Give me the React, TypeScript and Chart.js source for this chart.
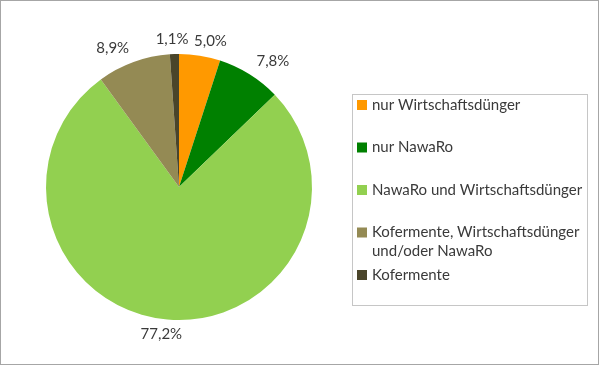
import React, { useEffect, useRef } from "react";
import { Chart, registerables } from "chart.js";

Chart.register(...registerables);

const categories: (string | string[])[] = [
  "nur Wirtschaftsdünger",
  "nur NawaRo",
  "NawaRo und Wirtschaftsdünger",
  ["Kofermente, Wirtschaftsdünger", "und/oder NawaRo"],
  "Kofermente",
];
const shares = [5.0, 7.8, 77.2, 8.9, 1.1];
const colors = ["#FF9900", "#008000", "#92D050", "#948A54", "#4A452A"];

const FONT = "15px Lato, 'Open Sans', sans-serif";
const TEXT = "#3a3a3a";

const fmt = (v: number) => v.toFixed(1).replace(".", ",") + "%";

const framePlugin = {
  id: "frame",
  afterDraw(chart: any) {
    const ctx = chart.ctx;
    ctx.save();
    ctx.strokeStyle = "#a6a6a6";
    ctx.lineWidth = 1;
    ctx.strokeRect(0.5, 0.5, chart.width - 2, chart.height - 2);
    ctx.restore();
  },
};

const labelPlugin = {
  id: "outsideLabels",
  afterDatasetsDraw(chart: any) {
    const ctx = chart.ctx;
    const meta = chart.getDatasetMeta(0);
    const data = chart.data.datasets[0].data as number[];
    ctx.save();
    ctx.font = FONT;
    ctx.fillStyle = TEXT;
    ctx.textAlign = "center";
    ctx.textBaseline = "middle";
    meta.data.forEach((arc: any, i: number) => {
      const { x, y, startAngle, endAngle, outerRadius } = arc.getProps(
        ["x", "y", "startAngle", "endAngle", "outerRadius"],
        true
      );
      const a = (startAngle + endAngle) / 2;
      const R = outerRadius + 13;
      const txt = fmt(data[i]);
      const w = ctx.measureText(txt).width;
      const dx = Math.cos(a);
      const dy = Math.sin(a);
      const shift = Math.max(-w / 2, Math.min(w / 2, dx * 55));
      const cx = x + dx * R + shift;
      const cy = y + dy * R + dy * 2;
      ctx.fillText(txt, cx, cy);
    });
    ctx.restore();
  },
};

const legendPlugin = {
  id: "boxLegend",
  afterDraw(chart: any) {
    const o = chart.options.plugins.boxLegend;
    const ctx = chart.ctx;
    const ds = chart.data.datasets[0];
    ctx.save();
    ctx.strokeStyle = "#c6c6c6";
    ctx.lineWidth = 1;
    ctx.strokeRect(o.left + 0.5, o.top + 0.5, o.width, o.height);
    ctx.font = FONT;
    ctx.fillStyle = TEXT;
    ctx.textAlign = "left";
    ctx.textBaseline = "middle";
    chart.data.labels.forEach((lab: any, i: number) => {
      const lines = Array.isArray(lab) ? lab : [lab];
      const cy = o.top + o.firstY + i * o.step;
      ctx.fillStyle = ds.backgroundColor[i];
      ctx.fillRect(o.left + o.swatchX, cy - o.swatch / 2, o.swatch, o.swatch);
      ctx.fillStyle = TEXT;
      lines.forEach((ln: string, j: number) => {
        ctx.fillText(ln, o.left + o.textX, cy + j * o.lineH);
      });
    });
    ctx.restore();
  },
};

export default function App() {
  const ref = useRef<HTMLCanvasElement | null>(null);
  useEffect(() => {
    if (!ref.current) return;
    const chart = new Chart(ref.current, {
      type: "pie",
      data: {
        labels: categories as any,
        datasets: [
          {
            data: shares,
            backgroundColor: colors,
            borderWidth: 0,
          },
        ],
      },
      options: {
        responsive: false,
        animation: false,
        layout: { padding: { left: 46, right: 288, top: 54, bottom: 46 } },
        plugins: {
          legend: { display: false },
          tooltip: { enabled: false },
          boxLegend: {
            left: 352,
            top: 94,
            width: 235,
            height: 211,
            firstY: 11,
            step: 42.5,
            lineH: 19,
            swatch: 10,
            swatchX: 5,
            textX: 20,
          },
        } as any,
      },
      plugins: [labelPlugin, legendPlugin, framePlugin],
    });
    return () => chart.destroy();
  }, []);
  return (
    <div style={{ position: "fixed", left: 0, top: 0, width: 600, height: 366, background: "#fff" }}>
      <canvas ref={ref} width={600} height={366} />
    </div>
  );
}
